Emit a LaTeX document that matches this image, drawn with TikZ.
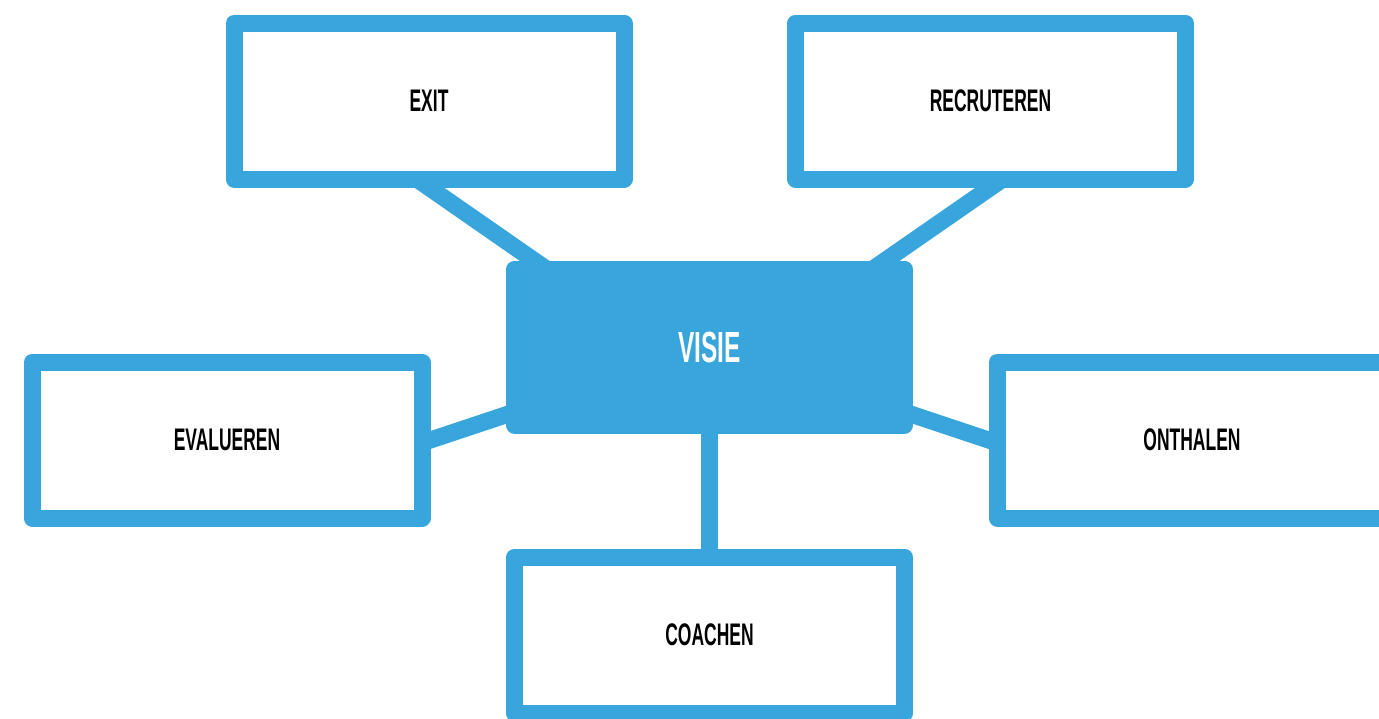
\documentclass[tikz,border=0pt]{standalone}
\usepackage{fontspec}
\setmainfont{Liberation Sans}
\usetikzlibrary{calc,backgrounds}
\definecolor{skyblue}{RGB}{56,165,221}
\newcommand{\cond}[1]{\scalebox{0.56}[1]{\bfseries #1}}
\tikzset{
  box/.style={draw=skyblue, line width=8.5pt, line join=round, fill=white,
    minimum width=195pt, minimum height=78pt, inner sep=0pt,
    font=\fontsize{15.6}{18}\selectfont, text=black},
  hub/.style={box, fill=skyblue, text=white, font=\fontsize{21.8}{24}\selectfont},
  link/.style={draw=skyblue, line width=8.5pt, shorten <=-8pt}
}
\begin{document}
\begin{tikzpicture}[x=0.5pt,y=-0.5pt]
\useasboundingbox (0,0) rectangle (1379,718);
\node[hub] (visie) at (709.5,347) {\cond{VISIE}};
\node[box] (exit) at (429,101) {\cond{EXIT}};
\node[box] (recruteren) at (990.5,101) {\cond{RECRUTEREN}};
\node[box] (evalueren) at (227,440) {\cond{EVALUEREN}};
\node[box] (onthalen) at (1192,440) {\cond{ONTHALEN}};
\node[box] (coachen) at (709.5,635) {\cond{COACHEN}};
\begin{scope}[on background layer]
\draw[link] (exit.south) -- ($(visie.center)+(-51,0)$);
\draw[link] (recruteren.south) -- ($(visie.center)+(51,0)$);
\draw[link] (evalueren.east) -- (visie.center);
\draw[link] (onthalen.west) -- (visie.center);
\draw[link] (coachen.north) -- (visie.center);
\end{scope}
\end{tikzpicture}
\end{document}
